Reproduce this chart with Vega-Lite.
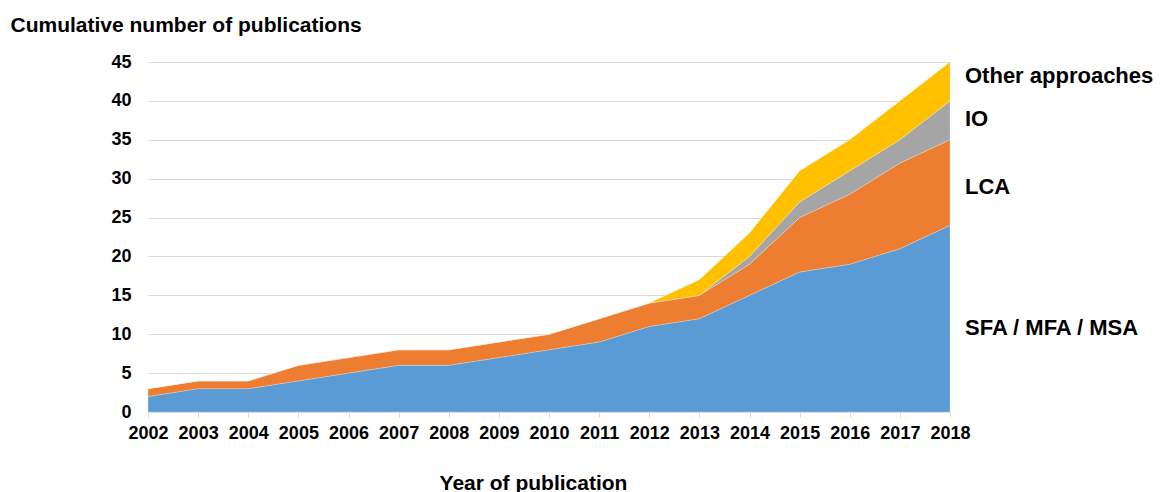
{
  "$schema": "https://vega.github.io/schema/vega-lite/v6.json",
  "width": 802,
  "height": 350,
  "autosize": {"type": "none"},
  "padding": {"left": 148, "top": 62, "right": 217, "bottom": 80},
  "background": "white",
  "config": {
    "font": "Liberation Sans",
    "view": {"stroke": null}
  },
  "datasets": {
    "pubs": [
      {"year": 2002, "series": "SFA / MFA / MSA", "order": 1, "value": 2},
      {"year": 2003, "series": "SFA / MFA / MSA", "order": 1, "value": 3},
      {"year": 2004, "series": "SFA / MFA / MSA", "order": 1, "value": 3},
      {"year": 2005, "series": "SFA / MFA / MSA", "order": 1, "value": 4},
      {"year": 2006, "series": "SFA / MFA / MSA", "order": 1, "value": 5},
      {"year": 2007, "series": "SFA / MFA / MSA", "order": 1, "value": 6},
      {"year": 2008, "series": "SFA / MFA / MSA", "order": 1, "value": 6},
      {"year": 2009, "series": "SFA / MFA / MSA", "order": 1, "value": 7},
      {"year": 2010, "series": "SFA / MFA / MSA", "order": 1, "value": 8},
      {"year": 2011, "series": "SFA / MFA / MSA", "order": 1, "value": 9},
      {"year": 2012, "series": "SFA / MFA / MSA", "order": 1, "value": 11},
      {"year": 2013, "series": "SFA / MFA / MSA", "order": 1, "value": 12},
      {"year": 2014, "series": "SFA / MFA / MSA", "order": 1, "value": 15},
      {"year": 2015, "series": "SFA / MFA / MSA", "order": 1, "value": 18},
      {"year": 2016, "series": "SFA / MFA / MSA", "order": 1, "value": 19},
      {"year": 2017, "series": "SFA / MFA / MSA", "order": 1, "value": 21},
      {"year": 2018, "series": "SFA / MFA / MSA", "order": 1, "value": 24},
      {"year": 2002, "series": "LCA", "order": 2, "value": 1},
      {"year": 2003, "series": "LCA", "order": 2, "value": 1},
      {"year": 2004, "series": "LCA", "order": 2, "value": 1},
      {"year": 2005, "series": "LCA", "order": 2, "value": 2},
      {"year": 2006, "series": "LCA", "order": 2, "value": 2},
      {"year": 2007, "series": "LCA", "order": 2, "value": 2},
      {"year": 2008, "series": "LCA", "order": 2, "value": 2},
      {"year": 2009, "series": "LCA", "order": 2, "value": 2},
      {"year": 2010, "series": "LCA", "order": 2, "value": 2},
      {"year": 2011, "series": "LCA", "order": 2, "value": 3},
      {"year": 2012, "series": "LCA", "order": 2, "value": 3},
      {"year": 2013, "series": "LCA", "order": 2, "value": 3},
      {"year": 2014, "series": "LCA", "order": 2, "value": 4},
      {"year": 2015, "series": "LCA", "order": 2, "value": 7},
      {"year": 2016, "series": "LCA", "order": 2, "value": 9},
      {"year": 2017, "series": "LCA", "order": 2, "value": 11},
      {"year": 2018, "series": "LCA", "order": 2, "value": 11},
      {"year": 2002, "series": "IO", "order": 3, "value": 0},
      {"year": 2003, "series": "IO", "order": 3, "value": 0},
      {"year": 2004, "series": "IO", "order": 3, "value": 0},
      {"year": 2005, "series": "IO", "order": 3, "value": 0},
      {"year": 2006, "series": "IO", "order": 3, "value": 0},
      {"year": 2007, "series": "IO", "order": 3, "value": 0},
      {"year": 2008, "series": "IO", "order": 3, "value": 0},
      {"year": 2009, "series": "IO", "order": 3, "value": 0},
      {"year": 2010, "series": "IO", "order": 3, "value": 0},
      {"year": 2011, "series": "IO", "order": 3, "value": 0},
      {"year": 2012, "series": "IO", "order": 3, "value": 0},
      {"year": 2013, "series": "IO", "order": 3, "value": 0},
      {"year": 2014, "series": "IO", "order": 3, "value": 1},
      {"year": 2015, "series": "IO", "order": 3, "value": 2},
      {"year": 2016, "series": "IO", "order": 3, "value": 3},
      {"year": 2017, "series": "IO", "order": 3, "value": 3},
      {"year": 2018, "series": "IO", "order": 3, "value": 5},
      {"year": 2002, "series": "Other approaches", "order": 4, "value": 0},
      {"year": 2003, "series": "Other approaches", "order": 4, "value": 0},
      {"year": 2004, "series": "Other approaches", "order": 4, "value": 0},
      {"year": 2005, "series": "Other approaches", "order": 4, "value": 0},
      {"year": 2006, "series": "Other approaches", "order": 4, "value": 0},
      {"year": 2007, "series": "Other approaches", "order": 4, "value": 0},
      {"year": 2008, "series": "Other approaches", "order": 4, "value": 0},
      {"year": 2009, "series": "Other approaches", "order": 4, "value": 0},
      {"year": 2010, "series": "Other approaches", "order": 4, "value": 0},
      {"year": 2011, "series": "Other approaches", "order": 4, "value": 0},
      {"year": 2012, "series": "Other approaches", "order": 4, "value": 0},
      {"year": 2013, "series": "Other approaches", "order": 4, "value": 2},
      {"year": 2014, "series": "Other approaches", "order": 4, "value": 3},
      {"year": 2015, "series": "Other approaches", "order": 4, "value": 4},
      {"year": 2016, "series": "Other approaches", "order": 4, "value": 4},
      {"year": 2017, "series": "Other approaches", "order": 4, "value": 5},
      {"year": 2018, "series": "Other approaches", "order": 4, "value": 5}
    ],
    "labels": [
      {"year": 2018, "pos": 43.2, "label": "Other approaches"},
      {"year": 2018, "pos": 37.7, "label": "IO"},
      {"year": 2018, "pos": 28.9, "label": "LCA"},
      {"year": 2018, "pos": 10.8, "label": "SFA / MFA / MSA"}
    ]
  },
  "layer": [
    {
      "data": {"name": "pubs"},
      "mark": {"type": "area", "stroke": "white", "strokeWidth": 0.4, "strokeOpacity": 0.6},
      "encoding": {
        "x": {
          "field": "year",
          "type": "quantitative",
          "scale": {"domain": [2002, 2018], "nice": false, "zero": false},
          "axis": {
            "values": [2002, 2003, 2004, 2005, 2006, 2007, 2008, 2009, 2010, 2011, 2012, 2013, 2014, 2015, 2016, 2017, 2018],
            "format": "d",
            "grid": false,
            "domainColor": "#D9D9D9",
            "tickColor": "#D9D9D9",
            "tickSize": 5,
            "labelPadding": 7,
            "labelFont": "Liberation Sans",
            "labelFontSize": 18,
            "labelFontWeight": "bold",
            "labelColor": "black",
            "labelFlush": false,
            "labelOverlap": false,
            "title": "Year of publication",
            "titleFont": "Liberation Sans",
            "titleFontSize": 21,
            "titleFontWeight": "bold",
            "titleColor": "black",
            "titleBaseline": "alphabetic",
            "titleAnchor": "start",
            "titleAlign": "center",
            "titleX": 385,
            "titleY": 77
          }
        },
        "y": {
          "field": "value",
          "type": "quantitative",
          "stack": "zero",
          "scale": {"domain": [0, 45], "nice": false},
          "axis": {
            "values": [0, 5, 10, 15, 20, 25, 30, 35, 40, 45],
            "labelOverlap": false,
            "domain": false,
            "ticks": false,
            "gridColor": "#D9D9D9",
            "gridWidth": 1,
            "labelPadding": 17,
            "labelFont": "Liberation Sans",
            "labelFontSize": 18,
            "labelFontWeight": "bold",
            "labelColor": "black",
            "title": "Cumulative number of publications",
            "titleFont": "Liberation Sans",
            "titleFontSize": 21,
            "titleFontWeight": "bold",
            "titleColor": "black",
            "titleAngle": 0,
            "titleAlign": "left",
            "titleBaseline": "alphabetic",
            "titleX": -138,
            "titleY": -31
          }
        },
        "color": {
          "field": "series",
          "type": "nominal",
          "scale": {
            "domain": ["SFA / MFA / MSA", "LCA", "IO", "Other approaches"],
            "range": ["#5B9BD5", "#ED7D31", "#A5A5A5", "#FFC000"]
          },
          "legend": null
        },
        "order": {"field": "order", "type": "quantitative"}
      }
    },
    {
      "data": {"name": "labels"},
      "mark": {"type": "text", "align": "left", "baseline": "middle", "dx": 15, "font": "Liberation Sans", "fontSize": 22, "fontWeight": "bold", "color": "black"},
      "encoding": {
        "x": {
          "field": "year",
          "type": "quantitative",
          "axis": {
            "values": [2002, 2003, 2004, 2005, 2006, 2007, 2008, 2009, 2010, 2011, 2012, 2013, 2014, 2015, 2016, 2017, 2018],
            "format": "d",
            "grid": false,
            "domainColor": "#D9D9D9",
            "tickColor": "#D9D9D9",
            "tickSize": 5,
            "labelPadding": 7,
            "labelFont": "Liberation Sans",
            "labelFontSize": 18,
            "labelFontWeight": "bold",
            "labelColor": "black",
            "labelFlush": false,
            "labelOverlap": false,
            "title": "Year of publication",
            "titleFont": "Liberation Sans",
            "titleFontSize": 21,
            "titleFontWeight": "bold",
            "titleColor": "black",
            "titleBaseline": "alphabetic",
            "titleAnchor": "start",
            "titleAlign": "center",
            "titleX": 385,
            "titleY": 77
          }
        },
        "y": {
          "field": "pos",
          "type": "quantitative",
          "axis": {
            "values": [0, 5, 10, 15, 20, 25, 30, 35, 40, 45],
            "labelOverlap": false,
            "domain": false,
            "ticks": false,
            "gridColor": "#D9D9D9",
            "gridWidth": 1,
            "labelPadding": 17,
            "labelFont": "Liberation Sans",
            "labelFontSize": 18,
            "labelFontWeight": "bold",
            "labelColor": "black",
            "title": "Cumulative number of publications",
            "titleFont": "Liberation Sans",
            "titleFontSize": 21,
            "titleFontWeight": "bold",
            "titleColor": "black",
            "titleAngle": 0,
            "titleAlign": "left",
            "titleBaseline": "alphabetic",
            "titleX": -138,
            "titleY": -31
          }
        },
        "text": {"field": "label", "type": "nominal"}
      }
    }
  ]
}
